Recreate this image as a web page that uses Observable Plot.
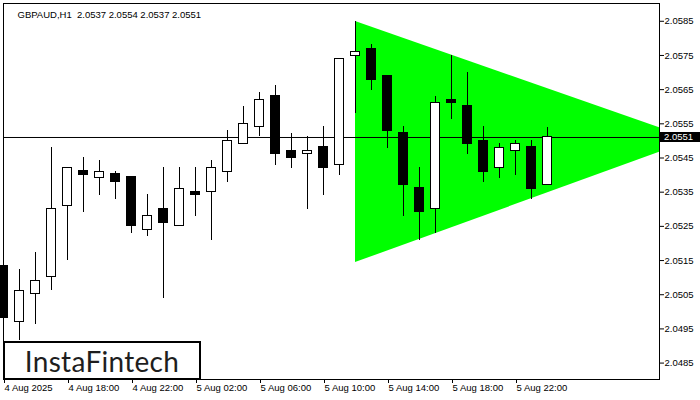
<!DOCTYPE html>
<html>
<head>
<meta charset="utf-8">
<script src="https://cdn.jsdelivr.net/npm/d3@7"></script>
<script src="https://cdn.jsdelivr.net/npm/@observablehq/plot@0.6"></script>
<style>
  html, body { margin: 0; padding: 0; background: #fff; }
  #wrap { position: relative; width: 700px; height: 400px; overflow: hidden; font-family: "Liberation Sans", Arial, sans-serif; }
  #logo { position: absolute; left: 3px; top: 341px; width: 198px; height: 39px; box-sizing: border-box;
          border: 2px solid #000; background: #fff; display: flex; align-items: center; justify-content: center;
          font-family: Lato, "Open Sans", sans-serif; font-size: 28px; color: #1e1e1e; letter-spacing: 0.3px; }
  #tag { position: absolute; left: 660px; width: 40px; height: 10px; background: #000; color: #fff;
         font-size: 9.5px; line-height: 10px; padding-left: 4px; box-sizing: border-box; }
</style>
</head>
<body>
<div id="wrap"></div>
<script>
// ---- data (GBPAUD H1, 4 Aug 2025 14:00 .. 6 Aug 2025 00:00) ----
const firstBar = "2025-08-04T14:00:00Z";
const opens  = [2.05133,2.04971,2.05053,2.05103,2.05310,2.05411,2.05392,2.05402,2.05393,2.05240,2.05302,2.05252,2.05351,2.05350,2.05410,2.05492,2.05541,2.05630,2.05471,2.05461,2.05481,2.05430,2.05749,2.05770,2.05691,2.05522,2.05361,2.05301,2.05621,2.05601,2.05501,2.05421,2.05470,2.05481,2.05370];
const highs  = [2.05294,2.05124,2.05174,2.05481,2.05422,2.05451,2.05443,2.05411,2.05396,2.05343,2.05422,2.05421,2.05421,2.05443,2.05530,2.05601,2.05642,2.05662,2.05521,2.05513,2.05542,2.05741,2.05849,2.05783,2.05692,2.05542,2.05422,2.05630,2.05750,2.05700,2.05542,2.05492,2.05501,2.05501,2.05540];
const lows   = [2.04930,2.04916,2.04962,2.05061,2.05151,2.05292,2.05341,2.05330,2.05230,2.05221,2.05040,2.05250,2.05280,2.05210,2.05379,2.05490,2.05513,2.05429,2.05420,2.05300,2.05340,2.05400,2.05579,2.05648,2.05479,2.05280,2.05210,2.05230,2.05562,2.05461,2.05379,2.05391,2.05400,2.05330,2.05370];
const closes = [2.04981,2.05062,2.05091,2.05301,2.05421,2.05400,2.05410,2.05379,2.05251,2.05281,2.05259,2.05360,2.05341,2.05421,2.05500,2.05550,2.05620,2.05461,2.05449,2.05471,2.05420,2.05740,2.05761,2.05678,2.05528,2.05372,2.05292,2.05611,2.05610,2.05490,2.05409,2.05480,2.05492,2.05359,2.05510];

// symmetrical triangle pattern (time, lower, upper)
const triTimes = ["2025-08-05T12:00:00Z", "2025-08-06T09:09:00Z"];
const triLower = [2.05144, 2.05503];
const triUpper = [2.05849, 2.05503];

const currentPrice = 2.0551;
const titleText = "GBPAUD,H1  2.0537 2.0554 2.0537 2.0551";

const yTicks = [2.0485,2.0495,2.0505,2.0515,2.0525,2.0535,2.0545,2.0555,2.0565,2.0575,2.0585];
const xTickTimes = ["2025-08-04T14:00:00Z","2025-08-04T18:00:00Z","2025-08-04T22:00:00Z","2025-08-05T02:00:00Z","2025-08-05T06:00:00Z","2025-08-05T10:00:00Z","2025-08-05T14:00:00Z","2025-08-05T18:00:00Z","2025-08-05T22:00:00Z"];
const xTickLabels = ["4 Aug 2025","4 Aug 18:00","4 Aug 22:00","5 Aug 02:00","5 Aug 06:00","5 Aug 10:00","5 Aug 14:00","5 Aug 18:00","5 Aug 22:00"];

// ---- build tables ----
const HOUR = 3600e3;
const t0 = new Date(firstBar);
const candles = opens.map((o, i) => ({t: new Date(+t0 + i * HOUR), o, h: highs[i], l: lows[i], c: closes[i]}));
const tri = triTimes.map((t, i) => ({t: new Date(t), lo: triLower[i], hi: triUpper[i]}));
const tickDates = xTickTimes.map(s => new Date(s));
const labelOf = new Map(tickDates.map((d, i) => [+d, xTickLabels[i]]));
const half = 17 * 60e3;

const plot = Plot.plot({
  width: 700,
  height: 400,
  marginLeft: 3,
  marginTop: 3,
  marginRight: 41,
  marginBottom: 21,
  style: {background: "#fff", fontFamily: "Liberation Sans, Arial, sans-serif", fontSize: "9.5px", color: "#000", overflow: "visible"},
  x: {type: "utc", domain: [new Date("2025-08-04T14:00:00Z"), new Date("2025-08-06T07:00:00Z")]},
  y: {domain: [2.04802, 2.05902]},
  marks: [
    Plot.areaY(tri, {x: "t", y1: "lo", y2: "hi", fill: "#00ff00", clip: true, curve: "linear"}),
    Plot.ruleY([currentPrice], {stroke: "#000", strokeWidth: 1}),
    Plot.ruleX(candles, {x: "t", y1: "l", y2: "h", stroke: "#000", strokeWidth: 1, shapeRendering: "crispEdges"}),
    Plot.rect(candles, {
      x1: d => new Date(+d.t - half), x2: d => new Date(+d.t + half),
      y1: d => Math.min(d.o, d.c), y2: d => Math.max(d.o, d.c),
      fill: d => d.c >= d.o ? "#fff" : "#000", stroke: "#000", strokeWidth: 1, shapeRendering: "crispEdges"
    }),
    Plot.frame({stroke: "#000", strokeWidth: 1}),
    Plot.axisY({anchor: "right", ticks: yTicks, tickSize: 4, tickPadding: 1, tickFormat: d3.format(".4f"), label: null, fill: "#000"}),
    Plot.axisX({anchor: "bottom", ticks: tickDates, tickSize: 4, tickPadding: 1, tickFormat: d => labelOf.get(+d), textAnchor: "start", dx: 1, label: null, fill: "#000"}),
    Plot.text([titleText], {frameAnchor: "top-left", text: d => d, dx: 14, dy: 8, textAnchor: "start", fill: "#000", fontSize: 9.5})
  ]
});

const wrap = document.getElementById("wrap");
wrap.appendChild(plot);

const logo = document.createElement("div");
logo.id = "logo";
logo.textContent = "InstaFintech";
wrap.appendChild(logo);

const tag = document.createElement("div");
tag.id = "tag";
tag.textContent = d3.format(".4f")(currentPrice);
tag.style.top = (plot.scale("y").apply(currentPrice) - 5) + "px";
wrap.appendChild(tag);
</script>
</body>
</html>
